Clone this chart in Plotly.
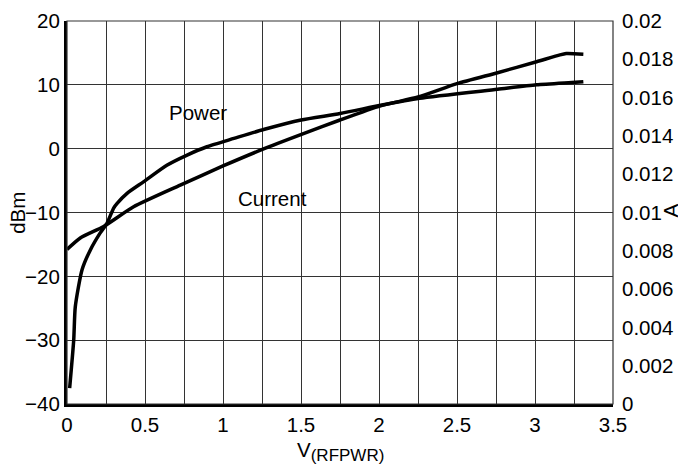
import plotly.graph_objects as go

# Power (dBm, left axis)
power_v = [0.017, 0.043, 0.053, 0.096, 0.149, 0.213, 0.256, 0.299, 0.32, 0.385, 0.49, 0.64, 0.77, 0.897,
           1.07, 1.26, 1.5, 1.75, 2.01, 2.26, 2.76, 3.01, 3.26, 3.31]
power_dbm = [-37.5, -30.0, -24.8, -19.0, -15.9, -13.2, -11.7, -9.3, -8.6, -7.0, -5.2, -2.6, -1.0, 0.3,
             1.6, 3.0, 4.5, 5.5, 6.8, 7.9, 9.3, 10.0, 10.4, 10.5]

# Current (A, right axis)
current_v = [0.0, 0.085, 0.235, 0.427, 0.726, 1.0, 1.26, 1.52, 1.75, 2.01, 2.25, 2.5, 2.76, 3.01, 3.16, 3.2, 3.31]
current_a = [0.00807, 0.00867, 0.00927, 0.01030, 0.01143, 0.01243, 0.01332, 0.01413, 0.01483, 0.01557,
             0.01603, 0.01673, 0.01730, 0.01787, 0.01823, 0.01830, 0.01827]

x_ticks = [0, 0.5, 1, 1.5, 2, 2.5, 3, 3.5]
x_ticklabels = ["0", "0.5", "1", "1.5", "2", "2.5", "3", "3.5"]
y_ticks = [-40, -30, -20, -10, 0, 10, 20]
y_ticklabels = ["\u221240", "\u221230", "\u221220", "\u221210", "0", "10", "20"]
y2_ticks = [0, 0.002, 0.004, 0.006, 0.008, 0.01, 0.012, 0.014, 0.016, 0.018, 0.02]
y2_ticklabels = ["0", "0.002", "0.004", "0.006", "0.008", "0.01", "0.012", "0.014", "0.016", "0.018", "0.02"]

FONT = "Liberation Sans, Arial, Helvetica, sans-serif"
FS = 20.5

fig = go.Figure()
fig.add_trace(go.Scatter(x=power_v, y=power_dbm, mode="lines",
                         line=dict(color="black", width=3.5, shape="spline", smoothing=0.6),
                         showlegend=False, yaxis="y"))
fig.add_trace(go.Scatter(x=current_v, y=current_a, mode="lines",
                         line=dict(color="black", width=3.5, shape="spline", smoothing=0.6),
                         showlegend=False, yaxis="y2"))

fig.update_layout(
    width=678, height=461,
    margin=dict(l=59, r=73, t=13, b=65),
    paper_bgcolor="white", plot_bgcolor="white",
    font=dict(family=FONT, size=FS, color="black"),
    xaxis=dict(range=[0, 3.5], tickvals=x_ticks, ticktext=x_ticklabels, showgrid=True,
               gridcolor="#333333", gridwidth=1, zeroline=False, showline=True, linecolor="black",
               linewidth=3, ticks="", ticklabelstandoff=0, automargin=False,
               minor=dict(dtick=0.25, showgrid=True, gridcolor="#333333", gridwidth=1)),
    yaxis=dict(range=[-40, 20], tickvals=y_ticks, ticktext=y_ticklabels, showgrid=True,
               gridcolor="#333333", gridwidth=1, zeroline=False, showline=True, linecolor="black",
               linewidth=3, ticks="", ticklabelstandoff=0, automargin=False),
    yaxis2=dict(range=[0, 0.02], tickvals=y2_ticks, ticktext=y2_ticklabels, overlaying="y", side="right",
                showgrid=False, zeroline=False, showline=False, ticks="", ticklabelstandoff=8,
                automargin=False),
    shapes=[dict(type="rect", xref="paper", yref="paper", x0=0, y0=0, x1=1, y1=1,
                 line=dict(color="#333333", width=1.2), layer="above")],
    annotations=[
        dict(x=0.84, y=5.7, xref="x", yref="y", text="Power", showarrow=False, font=dict(size=FS)),
        dict(x=1.32, y=-7.8, xref="x", yref="y", text="Current", showarrow=False, font=dict(size=FS)),
        dict(x=-0.091, y=0.5, xref="paper", yref="paper", xanchor="center", yanchor="middle",
             text="dBm", textangle=-90, showarrow=False, font=dict(size=FS)),
        dict(x=1.106, y=0.505, xref="paper", yref="paper", xanchor="center", yanchor="middle",
             text="A", textangle=-90, showarrow=False, font=dict(size=FS)),
        dict(x=0.50, y=-0.084, xref="paper", yref="paper", xanchor="center", yanchor="top",
             text="V<sub><span style=\"font-size:17px\">(RFPWR)</span></sub>", showarrow=False,
             font=dict(size=FS)),
        dict(x=0.5, y=-0.157, xref="paper", yref="paper", xanchor="center", yanchor="top",
             text="<b>Figure 30. Power and Current vs. V<sub>(RFPWR)</sub></b>", showarrow=False,
             font=dict(size=20)),
    ],
)

fig.write_html("out.html")
